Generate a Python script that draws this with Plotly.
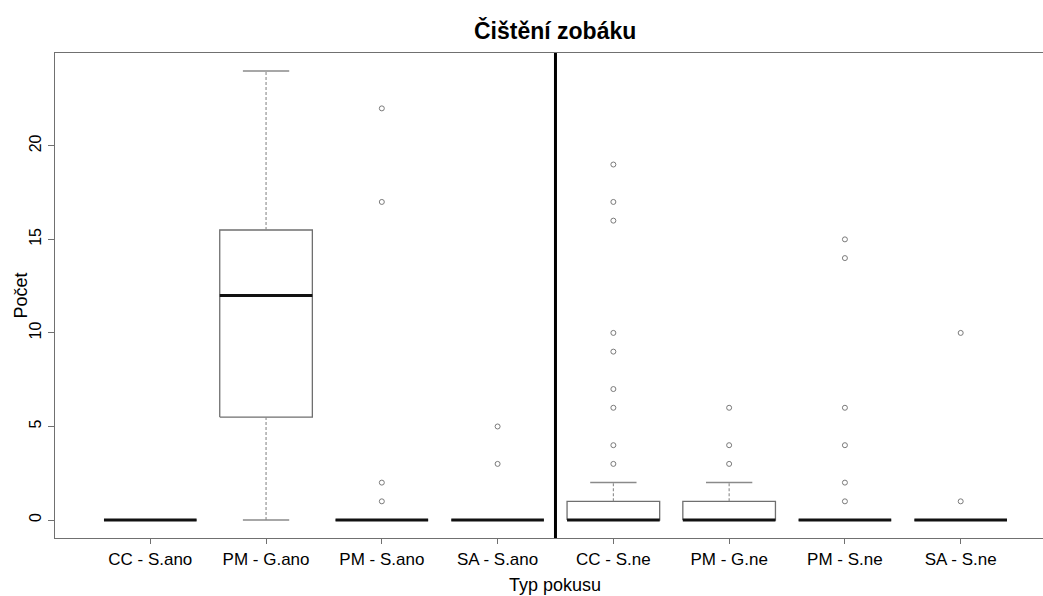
import plotly.graph_objects as go

# ---- data ----
categories = ["CC - S.ano", "PM - G.ano", "PM - S.ano", "SA - S.ano",
              "CC - S.ne", "PM - G.ne", "PM - S.ne", "SA - S.ne"]
q1 = [0, 5.5, 0, 0, 0, 0, 0, 0]
median = [0, 12, 0, 0, 0, 0, 0, 0]
q3 = [0, 15.5, 0, 0, 1, 1, 0, 0]
whisker_low = [0, 0, 0, 0, 0, 0, 0, 0]
whisker_high = [0, 24, 0, 0, 2, 2, 0, 0]
outliers = [
    [],
    [],
    [22, 17, 2, 1],
    [5, 3],
    [19, 17, 16, 10, 9, 7, 6, 4, 3],
    [6, 4, 3],
    [15, 14, 6, 4, 2, 1],
    [10, 1],
]
y_ticks = [0, 5, 10, 15, 20]

title = "Čištění zobáku"
x_title = "Typ pokusu"
y_title = "Počet"

# ---- styling ----
FONT = "Liberation Sans, Arial, sans-serif"
BOX_HALF = 0.4
CAP_HALF = 0.2
GRAY_BOX = "#6f6f6f"
GRAY_WHISK = "#8a8a8a"
FRAME = "#707070"

positions = list(range(1, len(categories) + 1))
divider = len([c for c in categories if c.endswith("ano")]) + 0.5

fig = go.Figure()

# boxes
bx, by = [], []
for p, a, b in zip(positions, q1, q3):
    bx += [p - BOX_HALF, p + BOX_HALF, p + BOX_HALF, p - BOX_HALF, p - BOX_HALF, None]
    by += [a, a, b, b, a, None]
fig.add_trace(go.Scatter(x=bx, y=by, mode="lines",
                         line=dict(color=GRAY_BOX, width=1.3),
                         hoverinfo="skip", showlegend=False))

# whiskers (dashed)
wx, wy = [], []
for p, a, b, lo, hi in zip(positions, q1, q3, whisker_low, whisker_high):
    if hi > b:
        wx += [p, p, None]
        wy += [b, hi, None]
    if lo < a:
        wx += [p, p, None]
        wy += [lo, a, None]
fig.add_trace(go.Scatter(x=wx, y=wy, mode="lines",
                         line=dict(color=GRAY_WHISK, width=1.1, dash="3px,2px"),
                         hoverinfo="skip", showlegend=False))

# caps
cx, cy = [], []
for p, lo, hi in zip(positions, whisker_low, whisker_high):
    cx += [p - CAP_HALF, p + CAP_HALF, None, p - CAP_HALF, p + CAP_HALF, None]
    cy += [hi, hi, None, lo, lo, None]
fig.add_trace(go.Scatter(x=cx, y=cy, mode="lines",
                         line=dict(color=GRAY_WHISK, width=1.5),
                         hoverinfo="skip", showlegend=False))

# medians
mx, my = [], []
for p, m in zip(positions, median):
    mx += [p - BOX_HALF, p + BOX_HALF, None]
    my += [m, m, None]
fig.add_trace(go.Scatter(x=mx, y=my, mode="lines",
                         line=dict(color="#111111", width=3),
                         hoverinfo="skip", showlegend=False))

# outliers
ox, oy = [], []
for p, outs in zip(positions, outliers):
    for v in outs:
        ox.append(p)
        oy.append(v)
fig.add_trace(go.Scatter(x=ox, y=oy, mode="markers",
                         marker=dict(symbol="circle-open", size=5,
                                     color="#7a7a7a", line=dict(width=1)),
                         hoverinfo="skip", showlegend=False))

# divider line between groups
fig.add_shape(type="line", xref="x", yref="paper", x0=divider, x1=divider,
              y0=0, y1=1, line=dict(color="black", width=3))

fig.update_layout(
    width=1043, height=596,
    margin=dict(l=55, r=0, t=53, b=58),
    paper_bgcolor="white", plot_bgcolor="white",
    font=dict(family=FONT, color="black"),
    showlegend=False,
    annotations=[
        dict(text=f"<b>{title}</b>", xref="x", yref="paper", x=divider, y=1,
             yshift=23, xanchor="center", yanchor="middle", showarrow=False,
             font=dict(size=23, family=FONT, color="black")),
        dict(text=x_title, xref="x", yref="paper", x=divider, y=0,
             yshift=-47, xanchor="center", yanchor="middle", showarrow=False,
             font=dict(size=18, family=FONT, color="black")),
        dict(text=y_title, xref="paper", yref="paper", x=0, y=0.5,
             xshift=-35, xanchor="center", yanchor="middle", showarrow=False,
             textangle=-90, font=dict(size=18, family=FONT, color="black")),
    ],
)

fig.update_xaxes(
    range=[0.177, 8.711], tickmode="array", tickvals=positions, ticktext=categories,
    showline=True, linecolor=FRAME, linewidth=1.2, mirror=True,
    ticks="outside", ticklen=5, tickcolor=FRAME, tickwidth=1,
    tickfont=dict(size=17, family=FONT, color="black"),
    showgrid=False, zeroline=False, fixedrange=True,
)
fig.update_yaxes(
    range=[-0.96, 24.96], tickmode="array", tickvals=y_ticks,
    ticktext=[str(t) for t in y_ticks], tickangle=-90,
    showline=True, linecolor=FRAME, linewidth=1.2,
    ticks="outside", ticklen=6, tickcolor=FRAME, tickwidth=1,
    tickfont=dict(size=16, family=FONT, color="black"),
    showgrid=False, zeroline=False, fixedrange=True,
)

fig.write_html("out.html",
               config={"displayModeBar": False, "staticPlot": True},
               post_script="document.body.style.margin='0';document.body.style.overflow='hidden';")
